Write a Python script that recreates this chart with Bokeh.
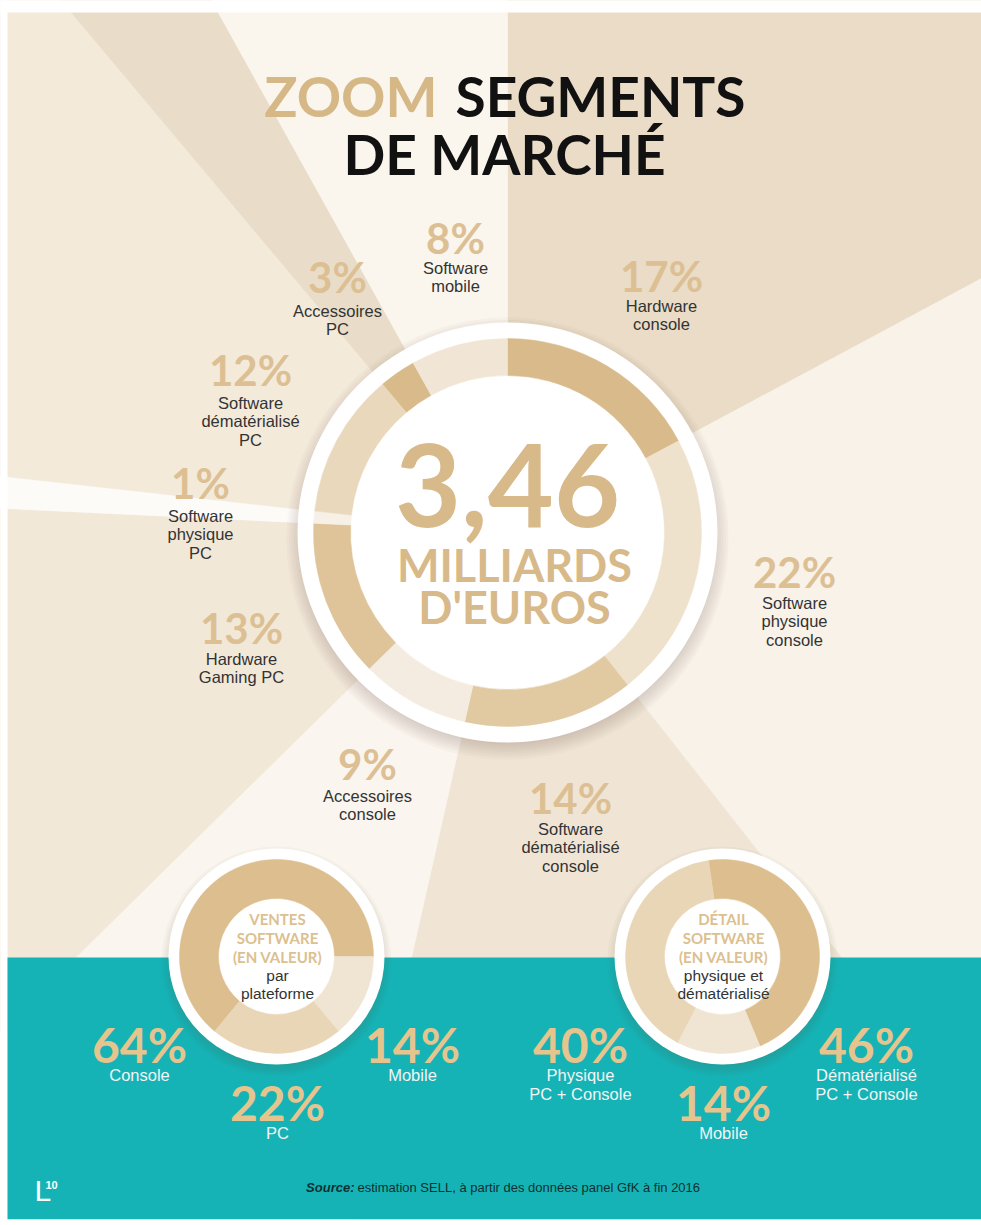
import numpy as np
from bokeh.plotting import figure
from bokeh.models import Range1d
from bokeh.core.properties import value
from bokeh.embed import file_html
from bokeh.resources import INLINE

# ---------------- data ----------------
segments = ["Hardware console", "Software physique console", "Software dématérialisé console",
            "Accessoires console", "Hardware Gaming PC", "Software physique PC",
            "Software dématérialisé PC", "Accessoires PC", "Software mobile"]
shares = [17, 22, 14, 9, 13, 1, 12, 3, 8]
seg_lines = [["Hardware", "console"], ["Software", "physique", "console"],
             ["Software", "dématérialisé", "console"], ["Accessoires", "console"],
             ["Hardware", "Gaming PC"], ["Software", "physique", "PC"],
             ["Software", "dématérialisé", "PC"], ["Accessoires", "PC"], ["Software", "mobile"]]

platform_cats = ["Console", "Mobile", "PC"]
platform_shares = [64, 14, 22]
platform_lines = [["Console"], ["Mobile"], ["PC"]]

format_cats = ["Dématérialisé PC + Console", "Mobile", "Physique PC + Console"]
format_shares = [46, 14, 40]
format_lines = [["Dématérialisé", "PC + Console"], ["Mobile"], ["Physique", "PC + Console"]]

total_value = "3,46"
total_unit = ["MILLIARDS", "D'EUROS"]

# ---------------- styles / layout ----------------
W, H = 981, 1225
PAGE_H = 1225
def Y(y):
    return PAGE_H - y

ring_colors = ["#D9BA8B", "#EFE2CD", "#E1C9A2", "#F4ECE0", "#DFC49A", "#F6F0E7",
               "#EAD8BC", "#D9BA8B", "#F1E6D5"]
ray_colors = ["#EADCC6", "#F8F2E8", "#F0E5D4", "#FAF5EE", "#F2E8D8", "#FDFBF8",
              "#F3EADA", "#E9DDC9", "#FAF5ED"]
seg_pct_pos = [(661, 275), (794, 571), (570, 797), (367, 763), (241, 627),
               (200, 482), (250, 369), (337, 276), (455, 237)]
seg_txt_y0 = [305, 602, 828, 795, 658, 515, 402, 310, 267]

TAN = "#D8B98A"
NUM_TAN = "#DCC094"
DARK = "#333333"
TEAL = "#15B3B6"

p = figure(width=W, height=H, x_range=Range1d(0, W), y_range=Range1d(0, H),
           output_backend="svg", toolbar_location=None, min_border=0)
p.axis.visible = False
p.grid.visible = False
p.outline_line_color = None
p.background_fill_color = "white"
p.border_fill_color = "white"

cx, cy = 507, 532

def rad(a):
    return list(np.deg2rad(np.asarray(a, dtype=float)))

# background rays
frac = np.array(shares, dtype=float) / sum(shares) * 360.0
ends = np.cumsum(frac)
starts = ends - frac
p.wedge(x=cx, y=Y(cy), radius=1700, start_angle=rad(90 - ends), end_angle=rad(90 - starts),
        fill_color=ray_colors, line_color=ray_colors, line_width=0.5)
# top / left white margin
p.quad(left=-10, right=1000, top=Y(-10), bottom=Y(12), fill_color="white", line_color=None)
p.quad(left=-10, right=7, top=Y(-10), bottom=Y(1235), fill_color="white", line_color=None)
# teal band
p.quad(left=7, right=1000, top=Y(957), bottom=Y(1219), fill_color=TEAL, line_color=None)
p.quad(left=-10, right=1000, top=Y(1219), bottom=Y(1235), fill_color="white", line_color=None)

# ---- shadows + big donut ----
def shadow(x, y, r, n=6, step=2.5, alpha=0.035, dy=5):
    for i in range(n):
        p.circle(x=x, y=Y(y + dy), radius=r + i * step, fill_color="#5a4a30",
                 fill_alpha=alpha, line_color=None)

shadow(cx, cy, 206, n=7, step=2.5, alpha=0.03, dy=6)
p.circle(x=cx, y=Y(cy), radius=210, fill_color="white", line_color=None)
p.annular_wedge(x=cx, y=Y(cy), inner_radius=157, outer_radius=194,
                start_angle=rad(90 - ends), end_angle=rad(90 - starts),
                fill_color=ring_colors, line_color=ring_colors, line_width=0.5)

# title
p.text(x=[437], y=[Y(95)], text=["ZOOM"], text_align="right", text_baseline="middle",
       text_font=value("Lato"), text_font_style="bold", text_font_size=value("55px"), text_color="#D6B887")
p.text(x=[455], y=[Y(95)], text=["SEGMENTS"], text_align="left", text_baseline="middle",
       text_font=value("Lato"), text_font_style="bold", text_font_size=value("55px"), text_color="#111111")
p.text(x=[504], y=[Y(153)], text=["DE MARCHÉ"], text_align="center", text_baseline="middle",
       text_font=value("Lato"), text_font_style="bold", text_font_size=value("55px"), text_color="#111111")

# centre text
p.text(x=[cx], y=[Y(484)], text=[total_value], text_align="center", text_baseline="middle",
       text_font=value("Lato"), text_font_style="bold", text_font_size=value("114px"), text_color=TAN)
for i, t in enumerate(total_unit):
    p.text(x=[cx + 7], y=[Y(564 + 42 * i)], text=[t], text_align="center", text_baseline="middle",
           text_font=value("Lato"), text_font_style="bold", text_font_size=value("45px"), text_color=TAN)

# segment labels
for i, v in enumerate(shares):
    x0, y0 = seg_pct_pos[i]
    p.text(x=[x0], y=[Y(y0)], text=[f"{v}%"], text_align="center", text_baseline="middle",
           text_font=value("Lato"), text_font_style="bold", text_font_size=value("42px"), text_color=NUM_TAN)
    for j, line in enumerate(seg_lines[i]):
        p.text(x=[x0], y=[Y(seg_txt_y0[i] + 18.5 * j)], text=[line], text_align="center",
               text_baseline="middle", text_font=value("Liberation Sans"),
               text_font_size=value("16.5px"), text_color=DARK)

# ---- small donuts ----
def small_donut(x, y, vals, colors, start_deg, title, sub):
    f = np.array(vals, dtype=float) / sum(vals) * 360.0
    e = start_deg + np.cumsum(f)
    s = e - f
    shadow(x, y, 105, n=5, step=2.5, alpha=0.035, dy=5)
    p.circle(x=x, y=Y(y), radius=108, fill_color="white", line_color=None)
    p.annular_wedge(x=x, y=Y(y), inner_radius=58, outer_radius=97,
                    start_angle=rad(90 - e), end_angle=rad(90 - s),
                    fill_color=colors, line_color=colors, line_width=0.5)
    for j, t in enumerate(title):
        p.text(x=[x + 1], y=[Y(y - 38 + 19 * j)], text=[t], text_align="center", text_baseline="middle",
               text_font=value("Lato"), text_font_style="bold", text_font_size=value("15px"),
               text_color="#DCC08F")
    for j, t in enumerate(sub):
        p.text(x=[x + 1], y=[Y(y + 19 + 18 * j)], text=[t], text_align="center", text_baseline="middle",
               text_font=value("Liberation Sans"), text_font_size=value("15.5px"), text_color=DARK)

small_donut(276, 956, platform_shares, ["#DCBE8F", "#F0E4D2", "#E9D6B6"], -140.4,
            ["VENTES", "SOFTWARE", "(EN VALEUR)"], ["par", "plateforme"])
small_donut(722, 956, format_shares, ["#DCBE8F", "#F0E4D2", "#E9D6B6"], -8.3,
            ["DÉTAIL", "SOFTWARE", "(EN VALEUR)"], ["physique et", "dématérialisé"])

# bottom labels
def bottom_label(x, y, v, lines):
    p.text(x=[x], y=[Y(y)], text=[f"{v}%"], text_align="center", text_baseline="middle",
           text_font=value("Lato"), text_font_style="bold", text_font_size=value("48px"), text_color="#E6C48E")
    for j, t in enumerate(lines):
        p.text(x=[x], y=[Y(y + 30 + 19 * j)], text=[t], text_align="center", text_baseline="middle",
               text_font=value("Liberation Sans"), text_font_size=value("16.5px"), text_color="#F4F4F4")

plat_pos = [(139, 1044), (412, 1044), (277, 1102)]
for (x, y), v, l in zip(plat_pos, platform_shares, platform_lines):
    bottom_label(x, y, v, l)
fmt_pos = [(866, 1044), (723, 1102), (580, 1044)]
for (x, y), v, l in zip(fmt_pos, format_shares, format_lines):
    bottom_label(x, y, v, l)

# source
p.text(x=[354], y=[Y(1187)], text=["Source:"], text_align="right", text_baseline="middle",
       text_font=value("Liberation Sans"), text_font_style="bold italic", text_font_size=value("13px"),
       text_color="#10302F")
p.text(x=[357], y=[Y(1187)], text=["estimation SELL, à partir des données panel GfK à fin 2016"],
       text_align="left", text_baseline="middle", text_font=value("Liberation Sans"),
       text_font_size=value("13px"), text_color="#10302F")

# logo
p.text(x=[34], y=[Y(1190)], text=["L"], text_align="left", text_baseline="middle",
       text_font=value("Liberation Sans"), text_font_size=value("30px"), text_color="white")
p.text(x=[45], y=[Y(1184)], text=["10"], text_align="left", text_baseline="middle",
       text_font=value("Liberation Sans"), text_font_style="bold", text_font_size=value("11px"), text_color="white")

open("out.html", "w").write(file_html(p, INLINE))
